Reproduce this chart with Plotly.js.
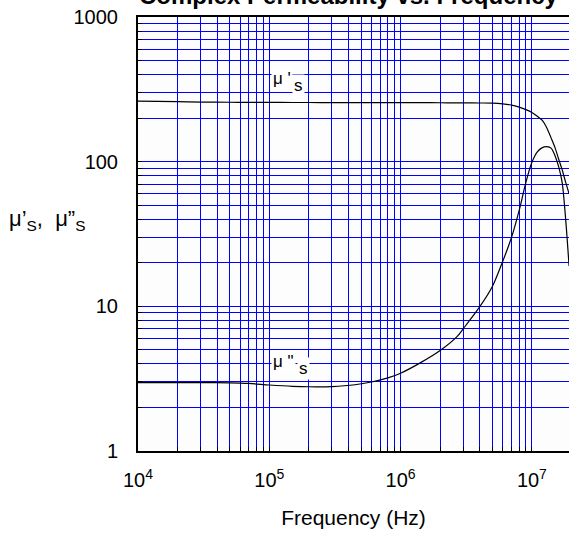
<!DOCTYPE html>
<html>
<head>
<meta charset="utf-8">
<script src="https://cdn.plot.ly/plotly-3.0.1.min.js"></script>
<style>html,body{margin:0;padding:0;background:#fff;overflow:hidden}#chart{width:569px;height:533px}</style>
</head>
<body>
<div id="chart"></div>
<script>
// Frequency (Hz)
var freq = [1e4, 2e4, 3e4, 5e4, 7e4, 1e5, 1.5e5, 2e5, 3e5, 4.5e5, 6e5, 8e5, 1e6, 1.4e6, 2e6, 2.7e6, 3e6, 4e6, 5e6, 6e6, 7e6, 8e6, 9e6, 1e7, 1.1e7, 1.2e7, 1.3e7, 1.4e7, 1.5e7, 1.6e7, 1.7e7, 1.8e7, 1.92e7];
// mu' (real part)
var muReal = [262, 260, 258, 257.5, 257, 257, 256.5, 256.5, 256, 256, 256, 256, 256, 256, 255.5, 255, 255, 254.5, 254, 251, 246, 238, 229, 219, 206, 193, 171, 146, 125, 104, 88, 73, 60];
// mu'' (imaginary part)
var muImag = [2.97, 2.97, 2.97, 2.96, 2.93, 2.86, 2.8, 2.78, 2.79, 2.87, 3.0, 3.2, 3.45, 4.05, 4.95, 6.2, 7.0, 9.9, 13.7, 20.5, 30, 46, 72, 99, 117, 125, 127, 124, 110, 92, 72, 42, 19];

// tick / grid positions (1..9 per decade)
var xTickVals = [1e4,2e4,3e4,4e4,5e4,6e4,7e4,8e4,9e4, 1e5,2e5,3e5,4e5,5e5,6e5,7e5,8e5,9e5, 1e6,2e6,3e6,4e6,5e6,6e6,7e6,8e6,9e6, 1e7];
var xTickText = ['10<sup>4</sup>','','','','','','','','', '10<sup>5</sup>','','','','','','','','', '10<sup>6</sup>','','','','','','','','', '10<sup>7</sup>'];
var yTickVals = [1,2,3,4,5,6,7,8,9, 10,20,30,40,50,60,70,80,90, 100,200,300,400,500,600,700,800,900, 1000];
var yTickText = ['1','','','','','','','','', '10','','','','','','','','', '100','','','','','','','','', '1000'];

var lineStyle = {color: '#000', width: 1.2, shape: 'spline', smoothing: 0.8};

var data = [
  {x: freq, y: muReal, type: 'scatter', mode: 'lines', line: lineStyle, hoverinfo: 'skip'},
  {x: freq, y: muImag, type: 'scatter', mode: 'lines', line: lineStyle, hoverinfo: 'skip'}
];

var font = 'Arial, "Liberation Sans", sans-serif';
var W = 431, H = 434;
function px(x) { return (x - 138) / W; }
function py(y) { return (451 - y) / H; }

var layout = {
  width: 569, height: 533,
  margin: {l: 138, r: 0, t: 17, b: 82, pad: 0},
  paper_bgcolor: '#fff', plot_bgcolor: '#fdfdfd',
  showlegend: false,
  font: {family: font, color: '#000', size: 19},
  xaxis: {
    type: 'log', range: [4, 7.2826],
    tickmode: 'array', tickvals: xTickVals, ticktext: xTickText,
    showgrid: true, gridcolor: '#0000ff', gridwidth: 1,
    ticks: 'inside', ticklen: 4, tickcolor: '#000', tickwidth: 1,
    showline: true, linecolor: '#000', linewidth: 2, mirror: true,
    ticklabelstandoff: 10,
    tickfont: {size: 20},
    zeroline: false,
    title: {text: 'Frequency (Hz)', font: {size: 21}, standoff: 20}
  },
  yaxis: {
    type: 'log', range: [0, 3],
    tickmode: 'array', tickvals: yTickVals, ticktext: yTickText,
    showgrid: true, gridcolor: '#0000ff', gridwidth: 1,
    ticks: 'inside', ticklen: 4, tickcolor: '#000', tickwidth: 1,
    showline: true, linecolor: '#000', linewidth: 2,
    ticklabelstandoff: 14,
    tickfont: {size: 20},
    zeroline: false
  },
  annotations: [
    {text: '<b>Complex Permeability vs. Frequency</b>', xref: 'paper', yref: 'paper', x: px(348), y: 1 + 6/H, xanchor: 'center', yanchor: 'bottom', showarrow: false, font: {size: 24}},
    {text: 'μ’<sub>S</sub>,&nbsp; μ”<sub>S</sub>', xref: 'paper', yref: 'paper', x: px(7), y: py(220), xanchor: 'left', yanchor: 'middle', showarrow: false, font: {size: 22}},
    {text: 'μ \'', xref: 'paper', yref: 'paper', x: px(271), y: py(78), xanchor: 'left', yanchor: 'middle', showarrow: false, bgcolor: '#fff', borderpad: 1, font: {size: 17}},
    {text: 's', xref: 'paper', yref: 'paper', x: px(292), y: py(85), xanchor: 'left', yanchor: 'middle', showarrow: false, bgcolor: '#fff', borderpad: 1, font: {size: 17}},
    {text: 'μ "', xref: 'paper', yref: 'paper', x: px(271), y: py(361), xanchor: 'left', yanchor: 'middle', showarrow: false, bgcolor: '#fff', borderpad: 1, font: {size: 17}},
    {text: 's', xref: 'paper', yref: 'paper', x: px(297), y: py(368), xanchor: 'left', yanchor: 'middle', showarrow: false, bgcolor: '#fff', borderpad: 1, font: {size: 17}}
  ]
};

Plotly.newPlot('chart', data, layout, {staticPlot: true, displayModeBar: false});
</script>
</body>
</html>
